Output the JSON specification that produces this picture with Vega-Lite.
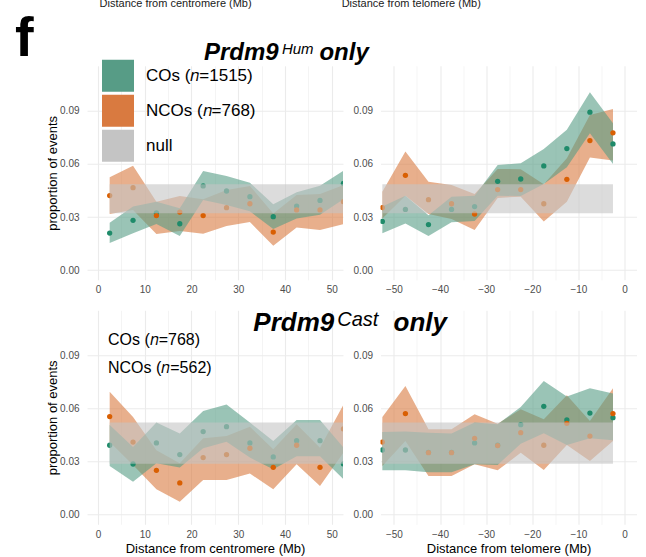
{
  "$schema": "https://vega.github.io/schema/vega-lite/v6.json",
  "padding": {"left": 15, "top": -2.2, "right": 5, "bottom": 0},
  "background": "white",
  "datasets": {
    "pts": [
      {"p":"HC","g":"CO","x":2.5,"y":0.0209,"lo":0.0153,"hi":0.0268},
      {"p":"HC","g":"CO","x":7.5,"y":0.0281,"lo":0.0208,"hi":0.0359},
      {"p":"HC","g":"CO","x":12.5,"y":0.0323,"lo":0.026,"hi":0.0387},
      {"p":"HC","g":"CO","x":17.5,"y":0.0262,"lo":0.0192,"hi":0.035},
      {"p":"HC","g":"CO","x":22.5,"y":0.0476,"lo":0.0396,"hi":0.056},
      {"p":"HC","g":"CO","x":27.5,"y":0.0447,"lo":0.0368,"hi":0.0532},
      {"p":"HC","g":"CO","x":32.5,"y":0.0415,"lo":0.0332,"hi":0.0494},
      {"p":"HC","g":"CO","x":37.5,"y":0.0302,"lo":0.0232,"hi":0.0372},
      {"p":"HC","g":"CO","x":42.5,"y":0.0362,"lo":0.0292,"hi":0.044},
      {"p":"HC","g":"CO","x":47.5,"y":0.0394,"lo":0.0313,"hi":0.0477},
      {"p":"HC","g":"CO","x":52.5,"y":0.049,"lo":0.040,"hi":0.0562},
      {"p":"HC","g":"NCO","x":2.5,"y":0.0421,"lo":0.0317,"hi":0.0525},
      {"p":"HC","g":"NCO","x":7.5,"y":0.0466,"lo":0.034,"hi":0.059},
      {"p":"HC","g":"NCO","x":12.5,"y":0.0308,"lo":0.0204,"hi":0.0387},
      {"p":"HC","g":"NCO","x":17.5,"y":0.0328,"lo":0.0221,"hi":0.0419},
      {"p":"HC","g":"NCO","x":22.5,"y":0.0308,"lo":0.0206,"hi":0.040},
      {"p":"HC","g":"NCO","x":27.5,"y":0.0353,"lo":0.0249,"hi":0.0453},
      {"p":"HC","g":"NCO","x":32.5,"y":0.0375,"lo":0.0272,"hi":0.0476},
      {"p":"HC","g":"NCO","x":37.5,"y":0.0215,"lo":0.0138,"hi":0.032},
      {"p":"HC","g":"NCO","x":42.5,"y":0.034,"lo":0.024,"hi":0.0425},
      {"p":"HC","g":"NCO","x":47.5,"y":0.034,"lo":0.0226,"hi":0.043},
      {"p":"HC","g":"NCO","x":52.5,"y":0.0387,"lo":0.026,"hi":0.048},

      {"p":"HT","g":"CO","x":-52.5,"y":0.0275,"lo":0.0208,"hi":0.0359},
      {"p":"HT","g":"CO","x":-47.5,"y":0.0343,"lo":0.0264,"hi":0.042},
      {"p":"HT","g":"CO","x":-42.5,"y":0.0257,"lo":0.0192,"hi":0.031},
      {"p":"HT","g":"CO","x":-37.5,"y":0.0343,"lo":0.027,"hi":0.0415},
      {"p":"HT","g":"CO","x":-32.5,"y":0.0359,"lo":0.0277,"hi":0.042},
      {"p":"HT","g":"CO","x":-27.5,"y":0.0502,"lo":0.042,"hi":0.0594},
      {"p":"HT","g":"CO","x":-22.5,"y":0.0515,"lo":0.0419,"hi":0.0604},
      {"p":"HT","g":"CO","x":-17.5,"y":0.0589,"lo":0.0487,"hi":0.0685},
      {"p":"HT","g":"CO","x":-12.5,"y":0.0687,"lo":0.0581,"hi":0.0793},
      {"p":"HT","g":"CO","x":-7.5,"y":0.0893,"lo":0.0774,"hi":0.1006},
      {"p":"HT","g":"CO","x":-2.5,"y":0.0713,"lo":0.0600,"hi":0.083},
      {"p":"HT","g":"NCO","x":-52.5,"y":0.0353,"lo":0.0292,"hi":0.0443},
      {"p":"HT","g":"NCO","x":-47.5,"y":0.0536,"lo":0.042,"hi":0.067},
      {"p":"HT","g":"NCO","x":-42.5,"y":0.0398,"lo":0.0317,"hi":0.05},
      {"p":"HT","g":"NCO","x":-37.5,"y":0.0375,"lo":0.0289,"hi":0.0481},
      {"p":"HT","g":"NCO","x":-32.5,"y":0.0317,"lo":0.0226,"hi":0.043},
      {"p":"HT","g":"NCO","x":-27.5,"y":0.0455,"lo":0.0408,"hi":0.0572},
      {"p":"HT","g":"NCO","x":-22.5,"y":0.0455,"lo":0.0415,"hi":0.057},
      {"p":"HT","g":"NCO","x":-17.5,"y":0.0375,"lo":0.0275,"hi":0.0485},
      {"p":"HT","g":"NCO","x":-12.5,"y":0.0513,"lo":0.0387,"hi":0.0632},
      {"p":"HT","g":"NCO","x":-7.5,"y":0.0732,"lo":0.0636,"hi":0.0877},
      {"p":"HT","g":"NCO","x":-2.5,"y":0.0776,"lo":0.062,"hi":0.0911},

      {"p":"CC","g":"CO","x":2.5,"y":0.0392,"lo":0.0275,"hi":0.0507},
      {"p":"CC","g":"CO","x":7.5,"y":0.0286,"lo":0.0185,"hi":0.0382},
      {"p":"CC","g":"CO","x":12.5,"y":0.0405,"lo":0.029,"hi":0.052},
      {"p":"CC","g":"CO","x":17.5,"y":0.0339,"lo":0.0266,"hi":0.0458},
      {"p":"CC","g":"CO","x":22.5,"y":0.0469,"lo":0.0375,"hi":0.0586},
      {"p":"CC","g":"CO","x":27.5,"y":0.0497,"lo":0.0412,"hi":0.0623},
      {"p":"CC","g":"CO","x":32.5,"y":0.0405,"lo":0.0322,"hi":0.052},
      {"p":"CC","g":"CO","x":37.5,"y":0.0326,"lo":0.0256,"hi":0.0416},
      {"p":"CC","g":"CO","x":42.5,"y":0.0418,"lo":0.033,"hi":0.0535},
      {"p":"CC","g":"CO","x":47.5,"y":0.0418,"lo":0.033,"hi":0.0535},
      {"p":"CC","g":"CO","x":52.5,"y":0.0286,"lo":0.020,"hi":0.038},
      {"p":"CC","g":"NCO","x":2.5,"y":0.0554,"lo":0.041,"hi":0.0695},
      {"p":"CC","g":"NCO","x":7.5,"y":0.041,"lo":0.028,"hi":0.0552},
      {"p":"CC","g":"NCO","x":12.5,"y":0.025,"lo":0.0143,"hi":0.0363},
      {"p":"CC","g":"NCO","x":17.5,"y":0.0179,"lo":0.0072,"hi":0.029},
      {"p":"CC","g":"NCO","x":22.5,"y":0.0322,"lo":0.0196,"hi":0.0431},
      {"p":"CC","g":"NCO","x":27.5,"y":0.0339,"lo":0.0196,"hi":0.0444},
      {"p":"CC","g":"NCO","x":32.5,"y":0.0375,"lo":0.0232,"hi":0.0497},
      {"p":"CC","g":"NCO","x":37.5,"y":0.0267,"lo":0.0143,"hi":0.0369},
      {"p":"CC","g":"NCO","x":42.5,"y":0.0392,"lo":0.0284,"hi":0.051},
      {"p":"CC","g":"NCO","x":47.5,"y":0.0267,"lo":0.0162,"hi":0.0378},
      {"p":"CC","g":"NCO","x":52.5,"y":0.0484,"lo":0.035,"hi":0.062},

      {"p":"CT","g":"CO","x":-52.5,"y":0.0365,"lo":0.025,"hi":0.0467},
      {"p":"CT","g":"CO","x":-47.5,"y":0.0365,"lo":0.025,"hi":0.0469},
      {"p":"CT","g":"CO","x":-42.5,"y":0.0352,"lo":0.0239,"hi":0.0463},
      {"p":"CT","g":"CO","x":-37.5,"y":0.0352,"lo":0.0239,"hi":0.0458},
      {"p":"CT","g":"CO","x":-32.5,"y":0.0405,"lo":0.0284,"hi":0.052},
      {"p":"CT","g":"CO","x":-27.5,"y":0.0392,"lo":0.028,"hi":0.051},
      {"p":"CT","g":"CO","x":-22.5,"y":0.0508,"lo":0.0401,"hi":0.0608},
      {"p":"CT","g":"CO","x":-17.5,"y":0.0612,"lo":0.046,"hi":0.0755},
      {"p":"CT","g":"CO","x":-12.5,"y":0.0535,"lo":0.0394,"hi":0.0667},
      {"p":"CT","g":"CO","x":-7.5,"y":0.0574,"lo":0.0431,"hi":0.0714},
      {"p":"CT","g":"CO","x":-2.5,"y":0.0548,"lo":0.042,"hi":0.0684},
      {"p":"CT","g":"NCO","x":-52.5,"y":0.041,"lo":0.0275,"hi":0.0552},
      {"p":"CT","g":"NCO","x":-47.5,"y":0.0571,"lo":0.0416,"hi":0.0727},
      {"p":"CT","g":"NCO","x":-42.5,"y":0.035,"lo":0.0218,"hi":0.0482},
      {"p":"CT","g":"NCO","x":-37.5,"y":0.035,"lo":0.0218,"hi":0.0482},
      {"p":"CT","g":"NCO","x":-32.5,"y":0.0431,"lo":0.0284,"hi":0.0567},
      {"p":"CT","g":"NCO","x":-27.5,"y":0.039,"lo":0.025,"hi":0.0514},
      {"p":"CT","g":"NCO","x":-22.5,"y":0.0463,"lo":0.035,"hi":0.0595},
      {"p":"CT","g":"NCO","x":-17.5,"y":0.0392,"lo":0.0252,"hi":0.0539},
      {"p":"CT","g":"NCO","x":-12.5,"y":0.0516,"lo":0.0394,"hi":0.0674},
      {"p":"CT","g":"NCO","x":-7.5,"y":0.0444,"lo":0.0303,"hi":0.0529},
      {"p":"CT","g":"NCO","x":-2.5,"y":0.0571,"lo":0.0416,"hi":0.0714}
    ],
    "nullband": [
      {"p":"HC","g":"null","x":2.5,"x2":52.5,"lo":0.0321,"hi":0.0485},
      {"p":"HT","g":"null","x":-52.5,"x2":-2.5,"lo":0.0321,"hi":0.0485},
      {"p":"CC","g":"null","x":2.5,"x2":52.5,"lo":0.0288,"hi":0.052},
      {"p":"CT","g":"null","x":-52.5,"x2":-2.5,"lo":0.0288,"hi":0.052}
    ]
  },
  "title": {"text": "f", "font": "Liberation Sans", "fontSize": 56, "fontWeight": "bold", "anchor": "start", "dx": -31.5, "offset": -39, "color": "#000",
    "subtitle": "\u2060\u2003\u2003\u2003\u2003\u2003\u2003\u2003\u2002\u2009Distance from centromere (Mb)\u2003\u2003\u2003\u2003\u2003\u2003\u2003\u2003\u2009Distance from telomere (Mb)",
    "subtitleFont": "Liberation Sans", "subtitleFontSize": 11, "subtitleColor": "#1A1A1A", "subtitlePadding": -69.2},
  "vconcat": [
    {
      "title": {"text": "Prdm9\u2003\u2002\u2009only", "subtitle": "\u2060\u2003\u2003\u2003\u2003\u2003\u2009Hum",
        "font": "Liberation Sans", "fontSize": 24, "fontStyle": "italic", "fontWeight": "bold", "color": "#000",
        "subtitleFont": "Liberation Sans", "subtitleFontSize": 15, "subtitleFontStyle": "italic", "subtitleFontWeight": "normal", "subtitleColor": "#000", "subtitlePadding": -23,
        "anchor": "start", "dx": 157.5, "offset": -5},
      "resolve": {"scale": {"color": "independent", "fill": "independent"}, "legend": {"color": "independent"}},
      "hconcat": [
        {
          "width": 256, "height": 214,
          "encoding": {"x": {"field": "x", "type": "quantitative", "scale": {"domain": [-2.35, 52.42], "nice": false, "zero": false},
            "axis": {"values": [0,5,10,15,20,25,30,35,40,45,50], "labelExpr": "datum.value % 10 === 0 ? datum.label : ''", "gridWidth": {"condition": {"test": "datum.value % 10 === 0", "value": 1.1}, "value": 0.55}, "title": null, "labelPadding": 5}}},
          "layer": [
            {"data": {"name": "pts"}, "transform": [{"filter": "datum.p === 'HC' && datum.g === 'NCO'"}],
             "mark": {"type": "area", "opacity": 0.6, "clip": true},
             "encoding": {
               "y": {"field": "lo", "type": "quantitative", "scale": {"domain": [-0.0055, 0.1155], "nice": false, "zero": false},
                 "axis": {"values": [0,0.015,0.03,0.045,0.06,0.075,0.09,0.105], "labelExpr": "round(datum.value*1000) % 30 === 0 ? format(datum.value, '.2f') : ''", "gridWidth": {"condition": {"test": "round(datum.value*1000) % 30 === 0", "value": 1.1}, "value": 0.55}, "title": "proportion of events", "labelPadding": 8, "titlePadding": 0}},
               "y2": {"field": "hi"},
               "color": {"field": "g", "type": "nominal", "scale": {"domain": ["CO","NCO","null"], "range": ["#579C86","#D97A40","#C4C4C4"]},
                 "legend": {"orient": "none", "legendX": 15, "legendY": -6, "title": null, "padding": 0, "symbolType": "square", "symbolSize": 1024, "symbolOpacity": 1, "symbolStrokeWidth": 0, "labelFont": "Liberation Sans", "labelFontSize": 17, "labelColor": "#000", "labelOffset": 12, "rowPadding": 3, "labelLimit": 300,
                   "labelExpr": "datum.label === 'CO' ? 'COs (𝑛=1515)' : datum.label === 'NCO' ? 'NCOs (𝑛=768)' : 'null'",
                   "encode": {"symbols": {"update": {"opacity": {"value": 1}}}}}}
             }},
            {"data": {"name": "pts"}, "transform": [{"filter": "datum.p === 'HC' && datum.g === 'CO'"}],
             "mark": {"type": "area", "opacity": 0.6, "clip": true},
             "encoding": {"y": {"field": "lo", "type": "quantitative", "scale": {"domain": [-0.0055, 0.1155], "nice": false, "zero": false}}, "y2": {"field": "hi"}, "color": {"field": "g", "type": "nominal"}}},
            {"data": {"name": "pts"}, "transform": [{"filter": "datum.p === 'HC'"}],
             "mark": {"type": "circle", "size": 28, "opacity": 1, "clip": true},
             "encoding": {"y": {"field": "y", "type": "quantitative", "scale": {"domain": [-0.0055, 0.1155], "nice": false, "zero": false}}, "fill": {"field": "g", "type": "nominal", "scale": {"domain": ["CO","NCO"], "range": ["#1F8B6A","#D95F02"]}, "legend": null}}},
            {"data": {"name": "nullband"}, "transform": [{"filter": "datum.p === 'HC'"}],
             "mark": {"type": "rect", "opacity": 0.6, "clip": true},
             "encoding": {"x2": {"field": "x2"}, "y": {"field": "lo", "type": "quantitative", "scale": {"domain": [-0.0055, 0.1155], "nice": false, "zero": false}}, "y2": {"field": "hi"}, "color": {"field": "g", "type": "nominal"}}}
          ]
        },
        {
          "width": 256, "height": 214,
          "encoding": {"x": {"field": "x", "type": "quantitative", "scale": {"domain": [-52.9, 2.6], "nice": false, "zero": false},
            "axis": {"values": [-50,-45,-40,-35,-30,-25,-20,-15,-10,-5,0], "labelExpr": "datum.value % 10 === 0 ? datum.label : ''", "gridWidth": {"condition": {"test": "datum.value % 10 === 0", "value": 1.1}, "value": 0.55}, "title": null, "labelPadding": 5}}},
          "layer": [
            {"data": {"name": "pts"}, "transform": [{"filter": "datum.p === 'HT' && datum.g === 'NCO'"}],
             "mark": {"type": "area", "opacity": 0.6, "clip": true},
             "encoding": {
               "y": {"field": "lo", "type": "quantitative", "scale": {"domain": [-0.0055, 0.1155], "nice": false, "zero": false},
                 "axis": {"values": [0,0.015,0.03,0.045,0.06,0.075,0.09,0.105], "labelExpr": "round(datum.value*1000) % 30 === 0 ? format(datum.value, '.2f') : ''", "gridWidth": {"condition": {"test": "round(datum.value*1000) % 30 === 0", "value": 1.1}, "value": 0.55}, "title": null, "labelPadding": 8}},
               "y2": {"field": "hi"},
               "color": {"field": "g", "type": "nominal", "scale": {"domain": ["CO","NCO","null"], "range": ["#579C86","#D97A40","#C4C4C4"]}, "legend": null}
             }},
            {"data": {"name": "pts"}, "transform": [{"filter": "datum.p === 'HT' && datum.g === 'CO'"}],
             "mark": {"type": "area", "opacity": 0.6, "clip": true},
             "encoding": {"y": {"field": "lo", "type": "quantitative", "scale": {"domain": [-0.0055, 0.1155], "nice": false, "zero": false}}, "y2": {"field": "hi"}, "color": {"field": "g", "type": "nominal"}}},
            {"data": {"name": "pts"}, "transform": [{"filter": "datum.p === 'HT'"}],
             "mark": {"type": "circle", "size": 28, "opacity": 1, "clip": true},
             "encoding": {"y": {"field": "y", "type": "quantitative", "scale": {"domain": [-0.0055, 0.1155], "nice": false, "zero": false}}, "fill": {"field": "g", "type": "nominal", "scale": {"domain": ["CO","NCO"], "range": ["#1F8B6A","#D95F02"]}, "legend": null}}},
            {"data": {"name": "nullband"}, "transform": [{"filter": "datum.p === 'HT'"}],
             "mark": {"type": "rect", "opacity": 0.6, "clip": true},
             "encoding": {"x2": {"field": "x2"}, "y": {"field": "lo", "type": "quantitative", "scale": {"domain": [-0.0055, 0.1155], "nice": false, "zero": false}}, "y2": {"field": "hi"}, "color": {"field": "g", "type": "nominal"}}}
          ]
        }
      ]
    },
    {
      "title": {"text": "Prdm9\u2003\u2003\u2009\u200Aonly", "subtitle": "\u2060\u2003\u2003\u2003\u2003\u2009Cast",
        "font": "Liberation Sans", "fontSize": 26, "fontStyle": "italic", "fontWeight": "bold", "color": "#000",
        "subtitleFont": "Liberation Sans", "subtitleFontSize": 20, "subtitleFontStyle": "italic", "subtitleFontWeight": "normal", "subtitleColor": "#000", "subtitlePadding": -25.6,
        "anchor": "start", "dx": 206.8, "offset": -25.3},
      "resolve": {"scale": {"color": "independent", "fill": "independent"}, "legend": {"color": "independent"}},
      "hconcat": [
        {
          "width": 256, "height": 214,
          "encoding": {"x": {"field": "x", "type": "quantitative", "scale": {"domain": [-2.35, 52.42], "nice": false, "zero": false},
            "axis": {"values": [0,5,10,15,20,25,30,35,40,45,50], "labelExpr": "datum.value % 10 === 0 ? datum.label : ''", "gridWidth": {"condition": {"test": "datum.value % 10 === 0", "value": 1.1}, "value": 0.55}, "title": "Distance from centromere (Mb)", "labelPadding": 5, "titlePadding": 3}}},
          "layer": [
            {"data": {"name": "pts"}, "transform": [{"filter": "datum.p === 'CC' && datum.g === 'NCO'"}],
             "mark": {"type": "area", "opacity": 0.6, "clip": true},
             "encoding": {
               "y": {"field": "lo", "type": "quantitative", "scale": {"domain": [-0.0055, 0.1155], "nice": false, "zero": false},
                 "axis": {"values": [0,0.015,0.03,0.045,0.06,0.075,0.09,0.105], "labelExpr": "round(datum.value*1000) % 30 === 0 ? format(datum.value, '.2f') : ''", "gridWidth": {"condition": {"test": "round(datum.value*1000) % 30 === 0", "value": 1.1}, "value": 0.55}, "title": "proportion of events", "labelPadding": 8, "titlePadding": 0}},
               "y2": {"field": "hi"},
               "color": {"field": "g", "type": "nominal", "scale": {"domain": ["CO","NCO","null"], "range": ["#579C86","#D97A40","#C4C4C4"]},
                 "legend": {"orient": "none", "legendX": 1, "legendY": 20, "title": null, "padding": 0, "values": ["CO","NCO"], "symbolType": "square", "symbolSize": 400, "symbolOpacity": 0, "symbolStrokeWidth": 0, "labelFont": "Liberation Sans", "labelFontSize": 16, "labelColor": "#000", "labelOffset": 0, "rowPadding": 7.5, "labelLimit": 300,
                   "labelExpr": "datum.label === 'CO' ? 'COs (𝑛=768)' : 'NCOs (𝑛=562)'",
                   "encode": {"symbols": {"update": {"opacity": {"value": 0}}}}}}
             }},
            {"data": {"name": "pts"}, "transform": [{"filter": "datum.p === 'CC' && datum.g === 'CO'"}],
             "mark": {"type": "area", "opacity": 0.6, "clip": true},
             "encoding": {"y": {"field": "lo", "type": "quantitative", "scale": {"domain": [-0.0055, 0.1155], "nice": false, "zero": false}}, "y2": {"field": "hi"}, "color": {"field": "g", "type": "nominal"}}},
            {"data": {"name": "pts"}, "transform": [{"filter": "datum.p === 'CC'"}],
             "mark": {"type": "circle", "size": 28, "opacity": 1, "clip": true},
             "encoding": {"y": {"field": "y", "type": "quantitative", "scale": {"domain": [-0.0055, 0.1155], "nice": false, "zero": false}}, "fill": {"field": "g", "type": "nominal", "scale": {"domain": ["CO","NCO"], "range": ["#1F8B6A","#D95F02"]}, "legend": null}}},
            {"data": {"name": "nullband"}, "transform": [{"filter": "datum.p === 'CC'"}],
             "mark": {"type": "rect", "opacity": 0.6, "clip": true},
             "encoding": {"x2": {"field": "x2"}, "y": {"field": "lo", "type": "quantitative", "scale": {"domain": [-0.0055, 0.1155], "nice": false, "zero": false}}, "y2": {"field": "hi"}, "color": {"field": "g", "type": "nominal"}}}
          ]
        },
        {
          "width": 256, "height": 214,
          "encoding": {"x": {"field": "x", "type": "quantitative", "scale": {"domain": [-52.9, 2.6], "nice": false, "zero": false},
            "axis": {"values": [-50,-45,-40,-35,-30,-25,-20,-15,-10,-5,0], "labelExpr": "datum.value % 10 === 0 ? datum.label : ''", "gridWidth": {"condition": {"test": "datum.value % 10 === 0", "value": 1.1}, "value": 0.55}, "title": "Distance from telomere (Mb)", "labelPadding": 5, "titlePadding": 3}}},
          "layer": [
            {"data": {"name": "pts"}, "transform": [{"filter": "datum.p === 'CT' && datum.g === 'NCO'"}],
             "mark": {"type": "area", "opacity": 0.6, "clip": true},
             "encoding": {
               "y": {"field": "lo", "type": "quantitative", "scale": {"domain": [-0.0055, 0.1155], "nice": false, "zero": false},
                 "axis": {"values": [0,0.015,0.03,0.045,0.06,0.075,0.09,0.105], "labelExpr": "round(datum.value*1000) % 30 === 0 ? format(datum.value, '.2f') : ''", "gridWidth": {"condition": {"test": "round(datum.value*1000) % 30 === 0", "value": 1.1}, "value": 0.55}, "title": null, "labelPadding": 8}},
               "y2": {"field": "hi"},
               "color": {"field": "g", "type": "nominal", "scale": {"domain": ["CO","NCO","null"], "range": ["#579C86","#D97A40","#C4C4C4"]}, "legend": null}
             }},
            {"data": {"name": "pts"}, "transform": [{"filter": "datum.p === 'CT' && datum.g === 'CO'"}],
             "mark": {"type": "area", "opacity": 0.6, "clip": true},
             "encoding": {"y": {"field": "lo", "type": "quantitative", "scale": {"domain": [-0.0055, 0.1155], "nice": false, "zero": false}}, "y2": {"field": "hi"}, "color": {"field": "g", "type": "nominal"}}},
            {"data": {"name": "pts"}, "transform": [{"filter": "datum.p === 'CT'"}],
             "mark": {"type": "circle", "size": 28, "opacity": 1, "clip": true},
             "encoding": {"y": {"field": "y", "type": "quantitative", "scale": {"domain": [-0.0055, 0.1155], "nice": false, "zero": false}}, "fill": {"field": "g", "type": "nominal", "scale": {"domain": ["CO","NCO"], "range": ["#1F8B6A","#D95F02"]}, "legend": null}}},
            {"data": {"name": "nullband"}, "transform": [{"filter": "datum.p === 'CT'"}],
             "mark": {"type": "rect", "opacity": 0.6, "clip": true},
             "encoding": {"x2": {"field": "x2"}, "y": {"field": "lo", "type": "quantitative", "scale": {"domain": [-0.0055, 0.1155], "nice": false, "zero": false}}, "y2": {"field": "hi"}, "color": {"field": "g", "type": "nominal"}}}
          ]
        }
      ]
    }
  ],
  "spacing": 14.5,
  "config": {
    "view": {"stroke": null},
    "concat": {"spacing": 9.5},
    "axis": {"domain": false, "ticks": false, "labelColor": "#4D4D4D", "labelFont": "Liberation Sans", "labelFontSize": 10, "titleFont": "Liberation Sans", "titleFontWeight": "normal", "titleFontSize": 13, "titleColor": "#000", "gridColor": "#EBEBEB", "labelOverlap": false}
  }
}
